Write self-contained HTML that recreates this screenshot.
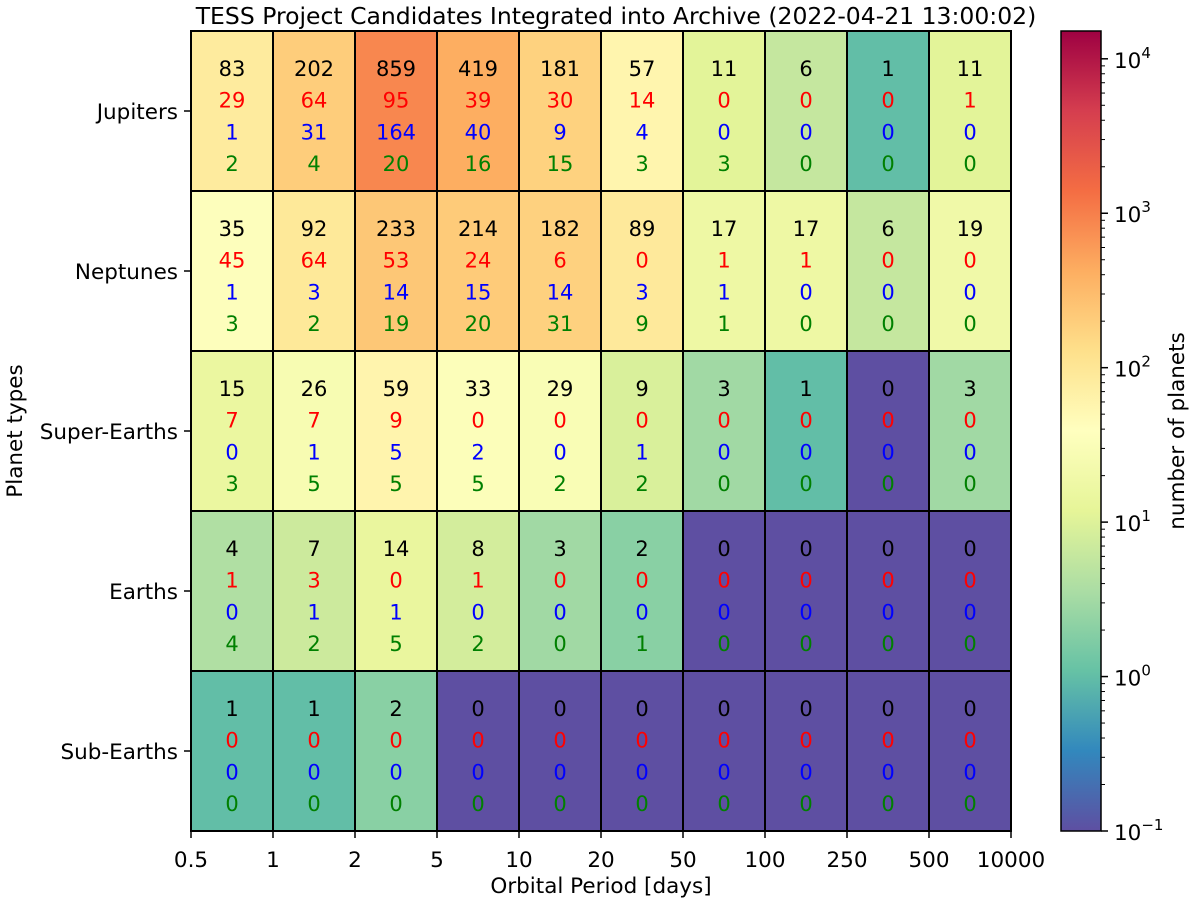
<!DOCTYPE html>
<html><head><meta charset="utf-8"><style>
body{margin:0;background:#fff;}
svg text{font-family:"DejaVu Sans","Liberation Sans",sans-serif;}
</style></head><body>
<svg id="chart" width="1200" height="902" xmlns="http://www.w3.org/2000/svg">
<defs><linearGradient id="cbg" x1="0" y1="1" x2="0" y2="0"></linearGradient></defs>
<text x="616" y="24" text-anchor="middle" font-size="23.5">TESS Project Candidates Integrated into Archive (2022-04-21 13:00:02)</text>
<g id="cells"></g>
<g id="axes"></g>
<text x="601" y="893" text-anchor="middle" font-size="21.5">Orbital Period [days]</text>
<text transform="translate(22,431) rotate(-90)" text-anchor="middle" font-size="21.5">Planet types</text>
<rect x="1061" y="31" width="40" height="800" fill="url(#cbg)" stroke="#000" stroke-width="1.5"/>
<g id="cbticks"></g>
<text transform="translate(1184,431) rotate(-90)" text-anchor="middle" font-size="21.5">number of planets</text>
</svg>
<script>
const xTickLabels=["0.5","1","2","5","10","20","50","100","250","500","10000"];
const rowLabels=["Jupiters","Neptunes","Super-Earths","Earths","Sub-Earths"];
const totalVals=[[83,202,859,419,181,57,11,6,1,11],[35,92,233,214,182,89,17,17,6,19],[15,26,59,33,29,9,3,1,0,3],[4,7,14,8,3,2,0,0,0,0],[1,1,2,0,0,0,0,0,0,0]];
const redVals=[[29,64,95,39,30,14,0,0,0,1],[45,64,53,24,6,0,1,1,0,0],[7,7,9,0,0,0,0,0,0,0],[1,3,0,1,0,0,0,0,0,0],[0,0,0,0,0,0,0,0,0,0]];
const blueVals=[[1,31,164,40,9,4,0,0,0,0],[1,3,14,15,14,3,1,0,0,0],[0,1,5,2,0,1,0,0,0,0],[0,1,1,0,0,0,0,0,0,0],[0,0,0,0,0,0,0,0,0,0]];
const greenVals=[[2,4,20,16,15,3,3,0,0,0],[3,2,19,20,31,9,1,0,0,0],[3,5,5,5,2,2,0,0,0,0],[4,2,5,2,0,1,0,0,0,0],[0,0,0,0,0,0,0,0,0,0]];
const cbTicks=[-1,0,1,2,3,4];
const X0=191,Y0=31,W=820,H=800,vmin=-1,vmax=4.18;
const stops=["#5e4fa2","#3288bd","#66c2a5","#abdda4","#e6f598","#ffffbf","#fee08b","#fdae61","#f46d43","#d53e4f","#9e0142"];
const NS="http://www.w3.org/2000/svg";
function hex(h){return [1,3,5].map(i=>parseInt(h.substr(i,2),16));}
function cmap(t){t=Math.max(0,Math.min(1,t));const p=t*10,i=Math.min(9,Math.floor(p)),f=p-i;const a=hex(stops[i]),b=hex(stops[i+1]);return "rgb("+a.map((v,k)=>Math.round(v+(b[k]-v)*f)).join(",")+")";}
function norm(v){const l=v<=0?vmin:Math.log10(v);return (l-vmin)/(vmax-vmin);}
const cw=W/xTickLabels.slice(1).length,rh=H/rowLabels.length;
function xs(i){return X0+i*cw;}
function ys(j){return Y0+j*rh;}
function cbY(l){return Y0+H-(l-vmin)/(vmax-vmin)*H;}
function mk(tag,attrs,parent){const e=document.createElementNS(NS,tag);for(const k in attrs)e.setAttribute(k,attrs[k]);parent.appendChild(e);return e;}
const cells=document.getElementById("cells"),axes=document.getElementById("axes");
const g=document.getElementById("cbg");
stops.forEach((c,i)=>{mk("stop",{offset:(i/10),"stop-color":c},g);});
const series=[[totalVals,"#000"],[redVals,"#ff0000"],[blueVals,"#0000ff"],[greenVals,"#008000"]];
rowLabels.forEach((r,j)=>{
  totalVals[j].forEach((v,i)=>{
    const rc=mk("rect",{x:xs(i),y:ys(j),width:cw,height:rh,fill:cmap(norm(v)),stroke:"#000","stroke-width":2},cells);
    
    
    series.forEach((s,k)=>{
      const t=mk("text",{x:xs(i)+cw/2,y:ys(j)+45+k*31.7,"text-anchor":"middle","font-size":21,fill:s[1]},cells);
      t.textContent=s[0][j][i];
      
      
    });
  });
  const lt=mk("text",{x:X0-13,y:ys(j)+rh/2+8,"text-anchor":"end","font-size":21.5},axes);
  lt.textContent=r;
  
  
  const tk=mk("line",{x1:X0-7,x2:X0,y1:ys(j)+rh/2,y2:ys(j)+rh/2,stroke:"#000","stroke-width":1.5},axes);
  
  
});
xTickLabels.forEach((l,i)=>{
  const tk=mk("line",{x1:xs(i),x2:xs(i),y1:Y0+H,y2:Y0+H+7,stroke:"#000","stroke-width":1.5},axes);
  
  
  const t=mk("text",{x:xs(i),y:Y0+H+36,"text-anchor":"middle","font-size":21.5},axes);
  t.textContent=l;
  
  
});
const cbt=document.getElementById("cbticks");
cbTicks.forEach(l=>{
  const y=cbY(l);
  const tk=mk("line",{x1:1101,x2:1108,y1:y,y2:y,stroke:"#000","stroke-width":1.5},cbt);
  
  
  const t=mk("text",{x:1114,y:y+9,"font-size":21.5},cbt);
  t.innerHTML='10<tspan dy="-10" font-size="15">'+(l<0?'\u2212'+(-l):l)+'</tspan>';
  
  
  if(l<4){for(let m=2;m<10;m++){const v=l+Math.log10(m);const yy=cbY(v);
    const mt=mk("line",{x1:1101,x2:1105,y1:yy,y2:yy,stroke:"#000","stroke-width":1},cbt);
    
    }}
});
</script>
</body></html>
